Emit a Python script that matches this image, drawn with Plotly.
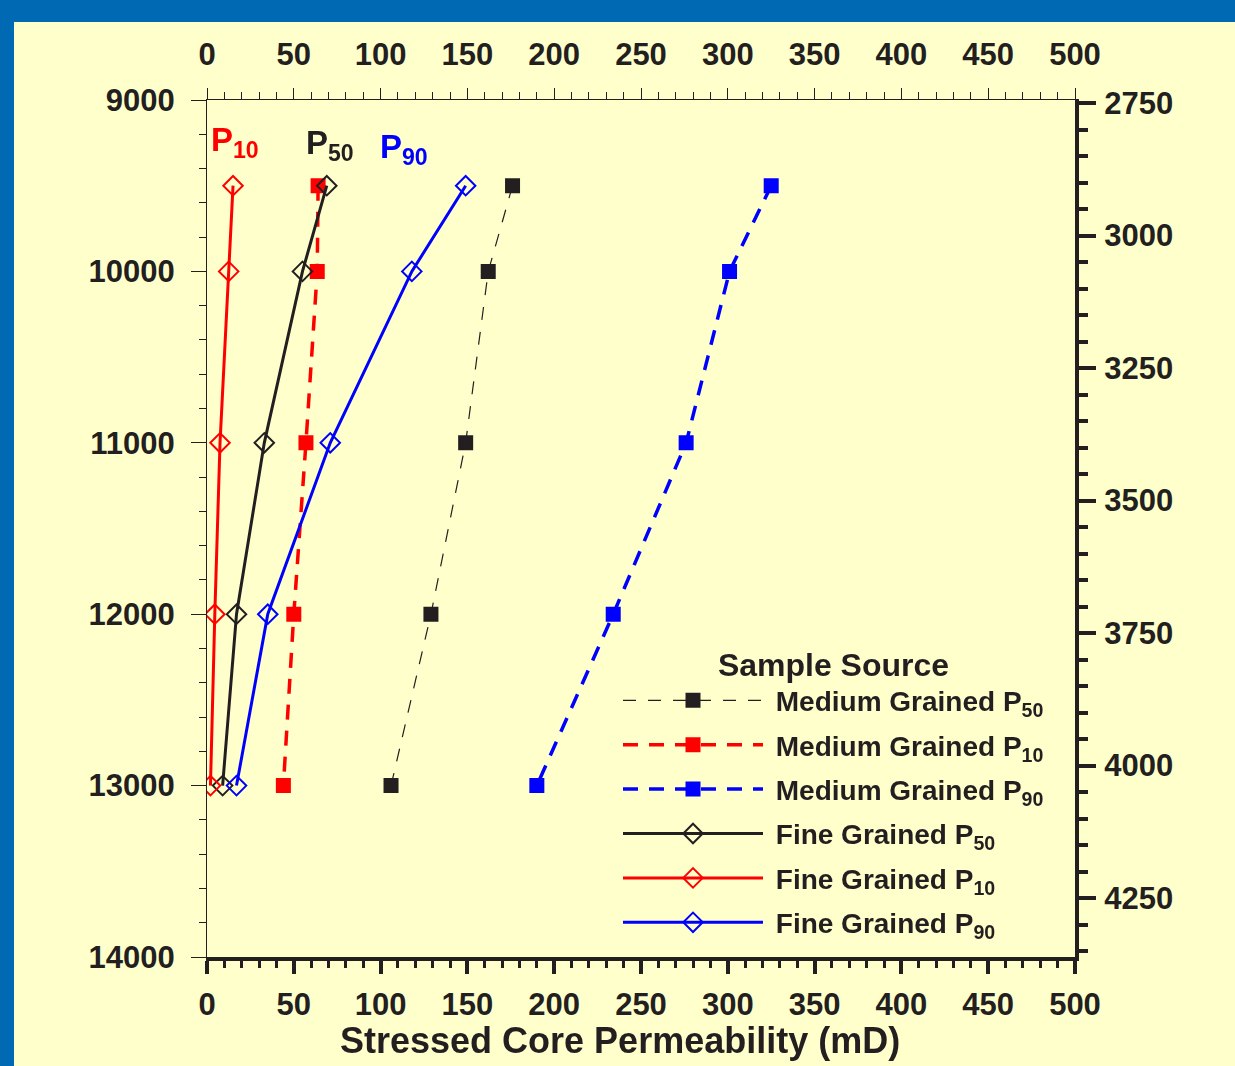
import plotly.graph_objects as go

# ---------------- data ----------------
depth_ft = [9500, 10000, 11000, 12000, 13000]
med_p50 = [176, 162, 149, 129, 106]
med_p10 = [64, 63.5, 57, 50, 44]
med_p90 = [325, 301, 276, 234, 190]
fine_p50 = [69, 55, 33, 17, 9]
fine_p10 = [15, 12.5, 7.5, 4.5, 2]
fine_p90 = [149, 118, 71, 35, 17]
FT_TO_M = 0.3048
depth_m = [d * FT_TO_M for d in depth_ft]

x_ticks = [0, 50, 100, 150, 200, 250, 300, 350, 400, 450, 500]
y_ticks_ft = [9000, 10000, 11000, 12000, 13000, 14000]
y_ticklabels_ft = ["9000", "10000", "11000", "12000", "13000", "14000"]
y_ticks_m = [2750, 3000, 3250, 3500, 3750, 4000, 4250]
y_ticklabels_m = ["2750", "3000", "3250", "3500", "3750", "4000", "4250"]
# right (metric) axis range as drawn in the original figure
y_range_m = [4361.3, 2744.3]

# ---------------- style ----------------
W, H = 1235, 1066
L, R, T, B = 207, 160, 100, 109
PW, PH = W - L - R, H - T - B
BLACK = "#231F20"
RED = "#FF0000"
BLUE = "#0000FF"
YELLOW = "#FFFFCC"
BORDER = "#0069B3"
FONT = "Liberation Sans"
NB = "\u00a0"


def px_x(p):
    return (p - L) / PW


def px_y(p):
    return (H - B - p) / PH


fig = go.Figure()

series = [
    ("Medium Grained P<sub>50</sub>", med_p50, BLACK, "13px,12px", 1.2, "square", True),
    ("Medium Grained P<sub>10</sub>", med_p10, RED, "15px,11px", 3.5, "square", True),
    ("Medium Grained P<sub>90</sub>", med_p90, BLUE, "15px,11px", 3.5, "square", True),
    ("Fine Grained P<sub>50</sub>", fine_p50, BLACK, "solid", 3, "diamond-open", False),
    ("Fine Grained P<sub>10</sub>", fine_p10, RED, "solid", 3, "diamond-open", False),
    ("Fine Grained P<sub>90</sub>", fine_p90, BLUE, "solid", 3, "diamond-open", False),
]

for i, (name, xs, col, dash, lw, sym, filled) in enumerate(series):
    fig.add_trace(go.Scatter(
        x=xs, y=depth_ft, name=NB + name, mode="lines+markers",
        legendgroup=f"g{i}",
        line=dict(color=col, width=lw, dash=dash),
        marker=dict(symbol=sym, size=13 if filled else 15, color=col,
                    line=dict(color=col, width=2)),
        xaxis="x", yaxis="y",
    ))

# invisible trace to activate the top / right (metric) axes
fig.add_trace(go.Scatter(
    x=med_p90, y=depth_m, mode="markers", opacity=0, showlegend=False,
    hoverinfo="skip", xaxis="x2", yaxis="y2",
))

tickfont = dict(family=FONT, size=31, color=BLACK, weight="bold")

fig.update_layout(
    width=W, height=H,
    margin=dict(l=L, r=R, t=T, b=B, pad=0),
    paper_bgcolor=YELLOW, plot_bgcolor=YELLOW,
    font=dict(family=FONT, color=BLACK),
    showlegend=True,
    xaxis=dict(
        range=[0, 500], tickvals=x_ticks, showgrid=False, zeroline=False,
        showline=True, linecolor=BLACK, linewidth=3.5, mirror=False,
        ticks="outside", ticklen=13, tickwidth=3.5, tickcolor=BLACK,
        minor=dict(dtick=10, ticks="outside", ticklen=7, tickwidth=3, tickcolor=BLACK),
        tickfont=tickfont, ticklabelstandoff=4,
    ),
    xaxis2=dict(
        range=[0, 500], tickvals=x_ticks, overlaying="x", side="top",
        showgrid=False, zeroline=False,
        showline=True, linecolor=BLACK, linewidth=1.2,
        ticks="outside", ticklen=11, tickwidth=1.2, tickcolor=BLACK,
        minor=dict(dtick=10, ticks="outside", ticklen=7, tickwidth=1, tickcolor=BLACK),
        tickfont=tickfont, ticklabelstandoff=11,
    ),
    yaxis=dict(
        range=[14000, 9000], tickvals=y_ticks_ft, ticktext=y_ticklabels_ft,
        showgrid=False, zeroline=False,
        showline=True, linecolor=BLACK, linewidth=1.2,
        ticks="outside", ticklen=15, tickwidth=1.2, tickcolor=BLACK,
        minor=dict(dtick=200, ticks="outside", ticklen=7, tickwidth=1, tickcolor=BLACK),
        tickfont=tickfont, ticklabelstandoff=10,
    ),
    yaxis2=dict(
        range=y_range_m, tickvals=y_ticks_m, ticktext=y_ticklabels_m,
        overlaying="y", side="right", showgrid=False, zeroline=False,
        showline=True, linecolor=BLACK, linewidth=4,
        ticks="outside", ticklen=17, tickwidth=4, tickcolor=BLACK,
        minor=dict(dtick=50, ticks="outside", ticklen=9, tickwidth=3.5, tickcolor=BLACK),
        tickfont=tickfont, ticklabelstandoff=2,
    ),
    legend=dict(
        x=px_x(618), y=px_y(634), xanchor="left", yanchor="top",
        bgcolor="rgba(0,0,0,0)", borderwidth=0,
        font=dict(family=FONT, size=28, color=BLACK, weight="bold"),
        title=dict(text="Sample Source", side="top center",
                   font=dict(family=FONT, size=32, color=BLACK, weight="bold")),
        itemwidth=140, tracegroupgap=5,
    ),
    shapes=[
        dict(type="rect", xref="paper", yref="paper", layer="below",
             x0=px_x(-5), x1=px_x(W + 5), y0=px_y(22), y1=px_y(-5),
             fillcolor=BORDER, line=dict(width=0)),
        dict(type="rect", xref="paper", yref="paper", layer="below",
             x0=px_x(-5), x1=px_x(14), y0=px_y(H + 5), y1=px_y(-5),
             fillcolor=BORDER, line=dict(width=0)),
    ],
    annotations=[
        dict(text="Stressed Core Permeability (mD)", x=px_x(620), y=px_y(1040),
             xref="paper", yref="paper", xanchor="center", yanchor="middle",
             showarrow=False, font=dict(family=FONT, size=36, color=BLACK, weight="bold")),
        dict(text="P<sub>10</sub>", x=px_x(235), y=px_y(142), xref="paper", yref="paper",
             xanchor="center", yanchor="middle",
             showarrow=False, font=dict(family=FONT, size=33, color=RED, weight="bold")),
        dict(text="P<sub>50</sub>", x=px_x(330), y=px_y(145), xref="paper", yref="paper",
             xanchor="center", yanchor="middle",
             showarrow=False, font=dict(family=FONT, size=33, color=BLACK, weight="bold")),
        dict(text="P<sub>90</sub>", x=px_x(404), y=px_y(149), xref="paper", yref="paper",
             xanchor="center", yanchor="middle",
             showarrow=False, font=dict(family=FONT, size=33, color=BLUE, weight="bold")),
    ],
)

fig.write_html(
    "out.html",
    config={"displayModeBar": False},
    post_script="document.body.style.margin='0';document.body.style.overflow='hidden';",
)
